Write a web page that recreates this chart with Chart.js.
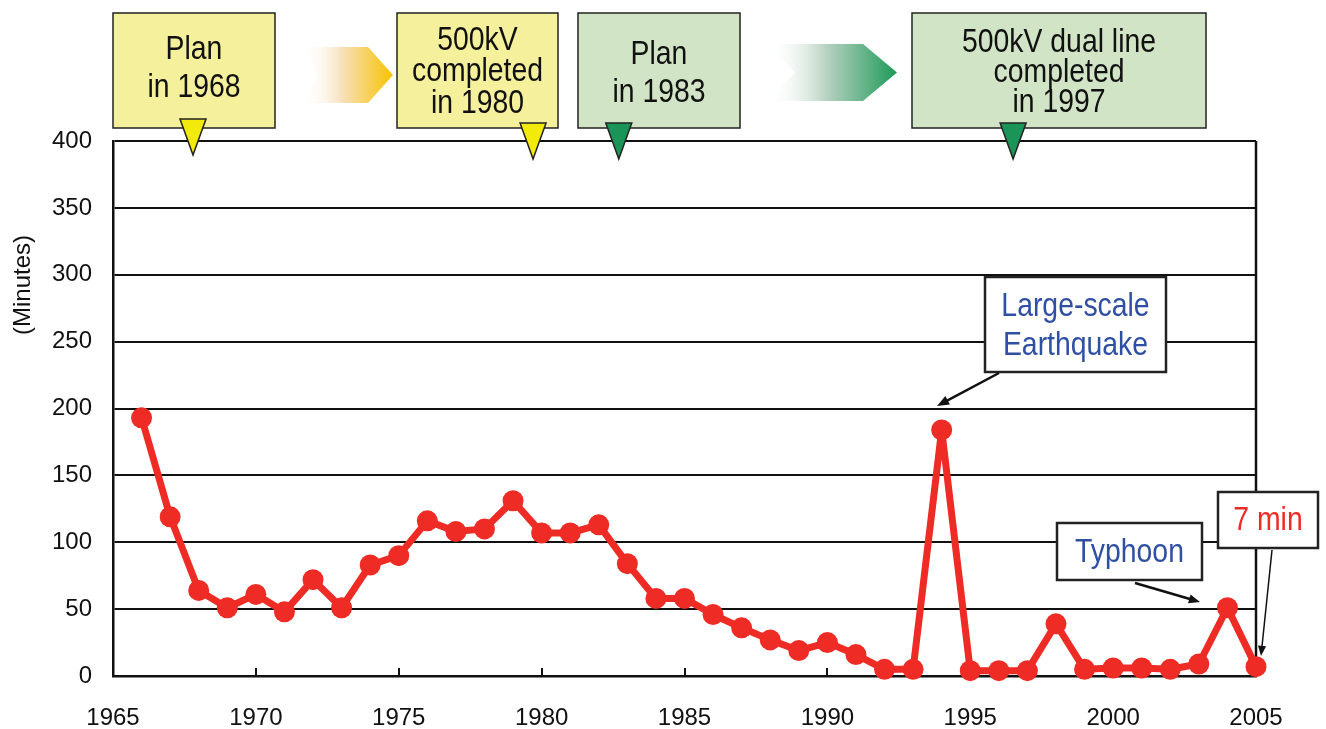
<!DOCTYPE html>
<html>
<head>
<meta charset="utf-8">
<title>Outage minutes per customer</title>
<script src="https://cdn.jsdelivr.net/npm/chart.js@4.4.1/dist/chart.umd.min.js"></script>
<style>
  html, body { margin: 0; padding: 0; background: #fff; }
  #wrap { width: 1326px; height: 729px; }
</style>
</head>
<body>
<div id="wrap"><canvas id="outageChart" width="1326" height="729"></canvas></div>
<script>
// ── Data ──────────────────────────────────────────────────────────────────
const years = [
  1966, 1967, 1968, 1969, 1970, 1971, 1972, 1973, 1974, 1975,
  1976, 1977, 1978, 1979, 1980, 1981, 1982, 1983, 1984, 1985,
  1986, 1987, 1988, 1989, 1990, 1991, 1992, 1993, 1994, 1995,
  1996, 1997, 1998, 1999, 2000, 2001, 2002, 2003, 2004, 2005
];
const minutes = [
  193, 119, 64, 51, 61, 48, 72, 51, 83, 90,
  116, 108, 110, 131, 107, 107, 113, 84, 58, 58,
  46, 36, 27, 19, 25, 16, 5, 5, 184, 4,
  4, 4, 39, 5, 6, 6, 5, 9, 51, 7
];
const yTicks = [0, 50, 100, 150, 200, 250, 300, 350, 400];
const xTicks = [1965, 1970, 1975, 1980, 1985, 1990, 1995, 2000, 2005];

const RED = '#ee2b24';
const TICK_FONT = { family: '"Liberation Sans", Arial, sans-serif', size: 24 };
const BOX_FONT = '33px "Liberation Sans", Arial, sans-serif';
const BOX_SQUEEZE = 0.86;   // condensed look for the box captions

// ── Drawing helpers ───────────────────────────────────────────────────────
function textBox(ctx, b) {
  ctx.save();
  ctx.fillStyle = b.fill;
  ctx.fillRect(b.x, b.y, b.w, b.h);
  ctx.strokeStyle = b.stroke || '#222';
  ctx.lineWidth = b.lw || 1.5;
  ctx.strokeRect(b.x, b.y, b.w, b.h);
  ctx.fillStyle = b.color || '#111';
  ctx.font = BOX_FONT;
  ctx.textAlign = 'center';
  ctx.textBaseline = 'middle';
  ctx.translate(b.x + b.w / 2, 0);
  ctx.scale(BOX_SQUEEZE, 1);
  const start = b.cy - (b.lines.length - 1) * b.gap / 2;
  b.lines.forEach((t, i) => ctx.fillText(t, 0, start + i * b.gap));
  ctx.restore();
}

function chevron(ctx, a) {
  const mid = (a.top + a.bottom) / 2;
  const g = ctx.createLinearGradient(a.x0, 0, a.tip, 0);
  g.addColorStop(0, 'rgba(255,255,255,0)');
  g.addColorStop(0.45, a.midColor);
  g.addColorStop(1, a.color);
  ctx.save();
  ctx.beginPath();
  ctx.moveTo(a.x0, a.top);
  ctx.lineTo(a.xc, a.top);
  ctx.lineTo(a.tip, mid);
  ctx.lineTo(a.xc, a.bottom);
  ctx.lineTo(a.x0, a.bottom);
  ctx.lineTo(a.notch, mid);
  ctx.closePath();
  ctx.fillStyle = g;
  ctx.fill();
  ctx.restore();
}

function marker(ctx, x, top, fill) {
  ctx.save();
  ctx.beginPath();
  ctx.moveTo(x - 13, top);
  ctx.lineTo(x + 13, top);
  ctx.lineTo(x, top + 36);
  ctx.closePath();
  ctx.fillStyle = fill;
  ctx.fill();
  ctx.strokeStyle = '#222';
  ctx.lineWidth = 1.5;
  ctx.stroke();
  ctx.restore();
}

function arrow(ctx, x1, y1, x2, y2, lw, head) {
  const ang = Math.atan2(y2 - y1, x2 - x1);
  ctx.save();
  ctx.strokeStyle = '#111';
  ctx.fillStyle = '#111';
  ctx.lineWidth = lw;
  ctx.beginPath();
  ctx.moveTo(x1, y1);
  ctx.lineTo(x2 - Math.cos(ang) * head * 0.8, y2 - Math.sin(ang) * head * 0.8);
  ctx.stroke();
  ctx.beginPath();
  ctx.moveTo(x2, y2);
  ctx.lineTo(x2 - head * Math.cos(ang - 0.38), y2 - head * Math.sin(ang - 0.38));
  ctx.lineTo(x2 - head * Math.cos(ang + 0.38), y2 - head * Math.sin(ang + 0.38));
  ctx.closePath();
  ctx.fill();
  ctx.restore();
}

// ── Extra drawing: frame, inner ticks, callouts, timeline ─────────────────
const decorations = {
  id: 'decorations',
  beforeDatasetsDraw(chart) {
    const { ctx, chartArea: a, scales: { x } } = chart;
    ctx.save();
    ctx.strokeStyle = '#111';
    ctx.lineWidth = 2.5;
    ctx.beginPath();
    ctx.moveTo(a.right, a.top);
    ctx.lineTo(a.right, a.bottom);
    ctx.stroke();
    // small tick marks pointing into the plot
    ctx.lineWidth = 2;
    xTicks.slice(1, -1).forEach(v => {
      const px = Math.round(x.getPixelForValue(v));
      ctx.beginPath();
      ctx.moveTo(px, a.bottom);
      ctx.lineTo(px, a.bottom - 8);
      ctx.stroke();
    });
    ctx.restore();
  },
  afterDatasetsDraw(chart) {
    const ctx = chart.ctx;
    textBox(ctx, { x: 985, y: 277, w: 181, h: 95, fill: '#fff', lw: 2.5,
      color: '#2f4fa2', lines: ['Large-scale', 'Earthquake'], cy: 326, gap: 39 });
    arrow(ctx, 999, 373, 937, 406, 2.5, 13);

    textBox(ctx, { x: 1057, y: 523, w: 145, h: 57, fill: '#fff', lw: 2.5,
      color: '#2f4fa2', lines: ['Typhoon'], cy: 553, gap: 0 });
    arrow(ctx, 1135, 583, 1200, 602, 2.5, 12);

    textBox(ctx, { x: 1218, y: 492, w: 100, h: 56, fill: '#fff', lw: 2.5,
      color: RED, lines: ['7 min'], cy: 521, gap: 0 });
    arrow(ctx, 1272, 550, 1261, 656, 1.5, 11);
  },
  afterDraw(chart) {
    const ctx = chart.ctx;
    const x = chart.scales.x;

    textBox(ctx, { x: 113, y: 13, w: 162, h: 115, fill: '#f5f09b',
      lines: ['Plan', 'in 1968'], cy: 69, gap: 38 });
    textBox(ctx, { x: 397, y: 13, w: 161, h: 115, fill: '#f5f09b',
      lines: ['500kV', 'completed', 'in 1980'], cy: 72, gap: 31.5 });
    textBox(ctx, { x: 578, y: 13, w: 162, h: 115, fill: '#d1e4c5',
      lines: ['Plan', 'in 1983'], cy: 74, gap: 38 });
    textBox(ctx, { x: 912, y: 13, w: 294, h: 115, fill: '#d1e4c5',
      lines: ['500kV dual line', 'completed', 'in 1997'], cy: 73, gap: 30 });

    chevron(ctx, { x0: 302, notch: 318, xc: 368, tip: 393, top: 47, bottom: 103,
      midColor: '#f7dfb8', color: '#f6c300' });
    chevron(ctx, { x0: 768, notch: 795, xc: 863, tip: 897, top: 44, bottom: 101,
      midColor: '#b8d2c2', color: '#1e9a58' });

    marker(ctx, x.getPixelForValue(1967.8), 119, '#f2ea0b');
    marker(ctx, x.getPixelForValue(1979.7), 123, '#f2ea0b');
    marker(ctx, x.getPixelForValue(1982.7), 123, '#1b9557');
    marker(ctx, x.getPixelForValue(1996.5), 123, '#1b9557');

    // y axis title sits above the middle of the axis
    ctx.save();
    ctx.translate(23, 285);
    ctx.rotate(-Math.PI / 2);
    ctx.font = '24px "Liberation Sans", Arial, sans-serif';
    ctx.fillStyle = '#111';
    ctx.textAlign = 'center';
    ctx.textBaseline = 'middle';
    ctx.fillText('(Minutes)', 0, 0);
    ctx.restore();
  }
};

// ── Chart ─────────────────────────────────────────────────────────────────
const ctx = document.getElementById('outageChart').getContext('2d');
window.outageChart = new Chart(ctx, {
  type: 'line',
  data: {
    datasets: [{
      label: 'Minutes',
      data: years.map((y, i) => ({ x: y, y: minutes[i] })),
      borderColor: RED,
      backgroundColor: RED,
      borderWidth: 7,
      borderJoinStyle: 'round',
      pointRadius: 10.5,
      pointHoverRadius: 10.5,
      pointBorderWidth: 0,
      tension: 0,
      clip: false
    }]
  },
  options: {
    responsive: false,
    animation: false,
    layout: { padding: { top: 141, right: 70, left: 0, bottom: 0 } },
    plugins: {
      legend: { display: false },
      tooltip: { enabled: false }
    },
    scales: {
      x: {
        type: 'linear',
        min: 1965,
        max: 2005,
        afterBuildTicks: s => { s.ticks = xTicks.map(v => ({ value: v })); },
        afterFit: s => { s.height = 53; },
        grid: { display: true, drawOnChartArea: false, drawTicks: false },
        border: { display: true, color: '#111', width: 2.5 },
        ticks: { color: '#111', font: TICK_FONT, padding: 28, maxRotation: 0,
                 callback: v => String(v) }
      },
      y: {
        min: 0,
        max: 400,
        afterBuildTicks: s => { s.ticks = yTicks.map(v => ({ value: v })); },
        afterFit: s => { s.width = 113; },
        grid: { color: '#111', lineWidth: 2, drawTicks: false },
        border: { display: true, color: '#111', width: 2.5 },
        ticks: { color: '#111', font: TICK_FONT, padding: 21 }
      }
    }
  },
  plugins: [decorations]
});
</script>
</body>
</html>
